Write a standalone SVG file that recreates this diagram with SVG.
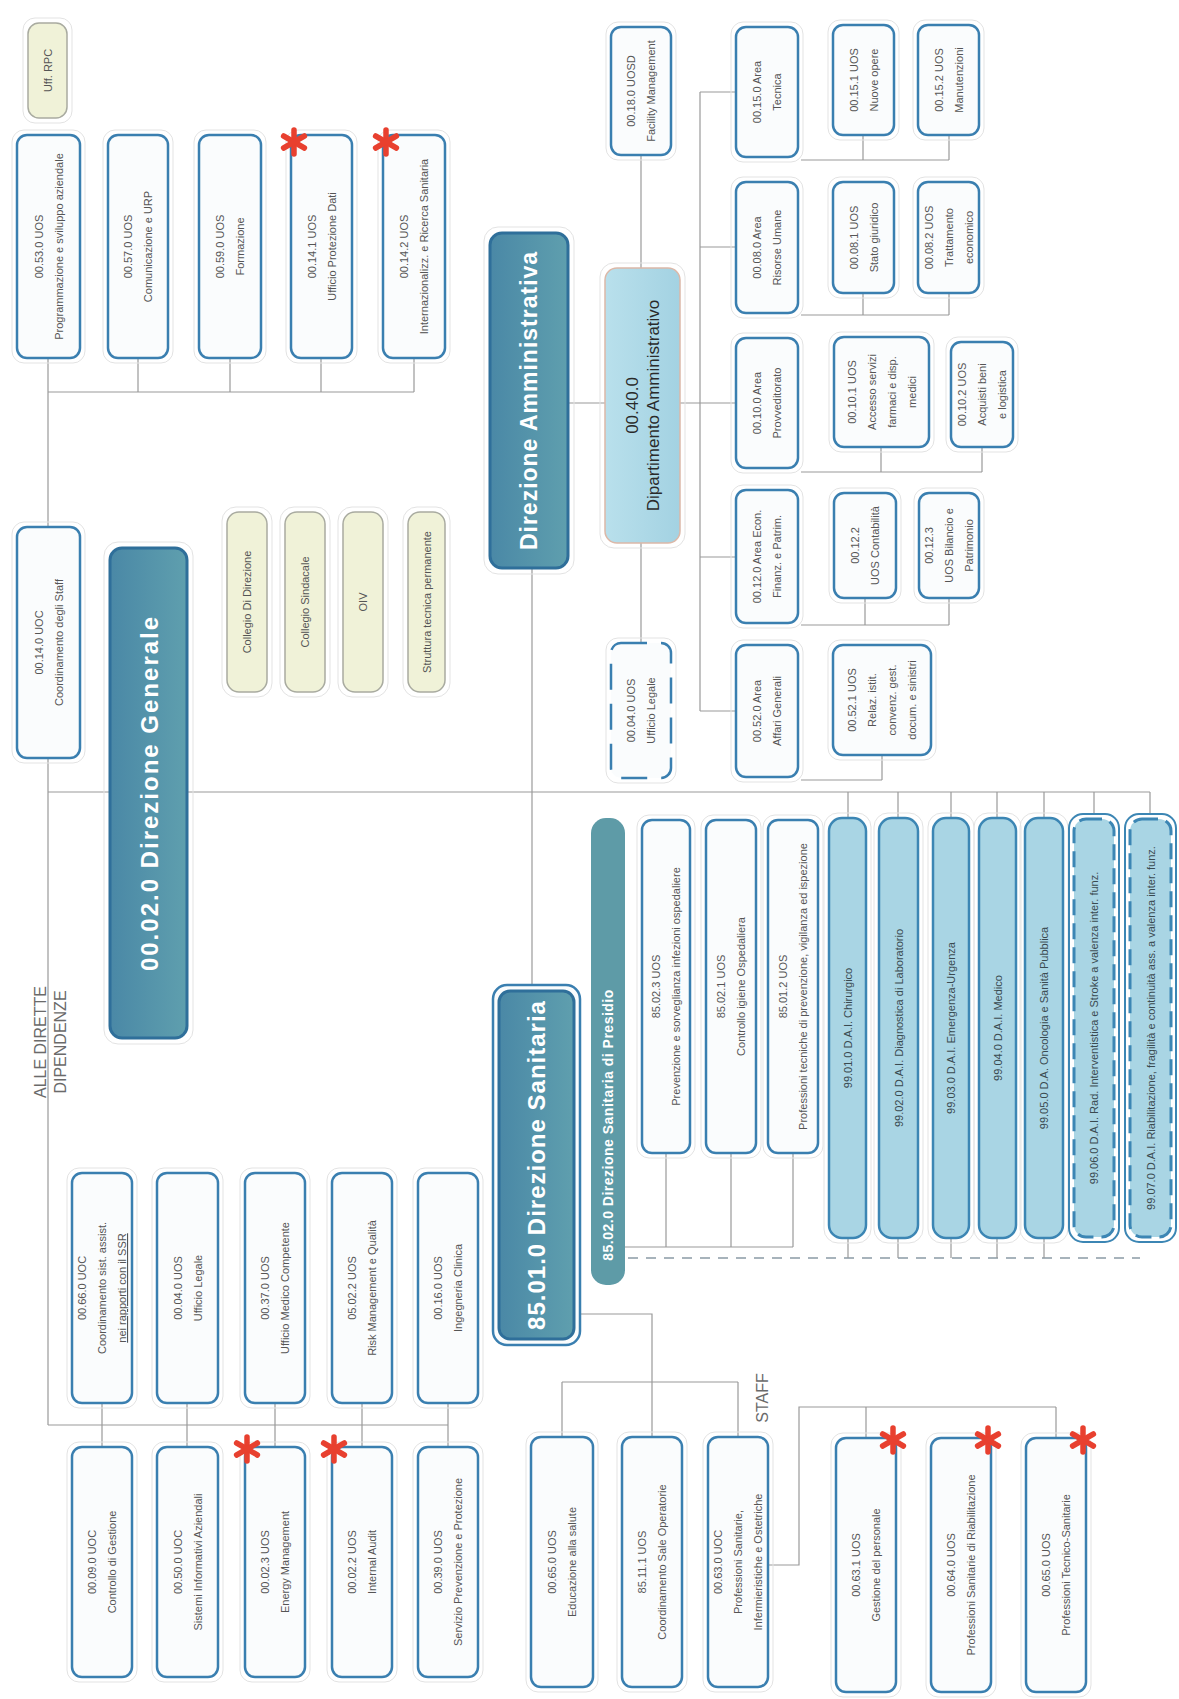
<svg xmlns="http://www.w3.org/2000/svg" xmlns:xlink="http://www.w3.org/1999/xlink" width="1179" height="1699" viewBox="0 0 1179 1699">
<style>
.bg{fill:#ffffff}
.box{fill:#fafcfd;stroke:#3a7fb0;stroke-width:2.5}
.dash{fill:#fafcfd;stroke:#3a7fb0;stroke-width:2.5;stroke-dasharray:26 14}
.halo{fill:none;stroke:#e3e3e3;stroke-width:1}
.t{font-family:"Liberation Sans",Arial,sans-serif;font-size:11px;fill:#555;text-anchor:middle}
.dt{font-family:"Liberation Sans",Arial,sans-serif;font-size:11px;fill:#3a4a50;text-anchor:middle}
.dai{fill:#a9d5e4;stroke:#3c86b4;stroke-width:2.5}
.daid{fill:#a9d5e4;stroke:#3c86b4;stroke-width:3;stroke-dasharray:16 8}
.daio{fill:#ffffff;stroke:#3c86b4;stroke-width:2}
.yel{fill:#f0f2d8;stroke:#a9aba0;stroke-width:1.5}
.hdr{fill:url(#hg);stroke:#2f6f9a;stroke-width:3}
.ht{font-family:"Liberation Sans",Arial,sans-serif;font-weight:bold;fill:#ffffff;text-anchor:middle}
.ln{stroke:#9a9a9a;stroke-width:1.2;fill:none}
.lnd{stroke:#8a9aa5;stroke-width:1.5;fill:none;stroke-dasharray:10 8}
.lbl{font-family:"Liberation Sans",Arial,sans-serif;font-size:16px;fill:#6a6a6a;text-anchor:middle}
</style>
<defs>
<linearGradient id="hg" x1="0" y1="0" x2="1" y2="0">
<stop offset="0" stop-color="#4a88a6"/>
<stop offset="1" stop-color="#5f9fae"/>
</linearGradient>
<linearGradient id="dg" x1="0" y1="0" x2="1" y2="0">
<stop offset="0" stop-color="#b9e0ec"/>
<stop offset="1" stop-color="#a3d2e2"/>
</linearGradient>
<g id="ast">
<line x1="0" y1="-12" x2="0" y2="12" stroke="#e8402f" stroke-width="5.5" stroke-linecap="round"/>
<line x1="-10.4" y1="-6" x2="10.4" y2="6" stroke="#e8402f" stroke-width="5.5" stroke-linecap="round"/>
<line x1="-10.4" y1="6" x2="10.4" y2="-6" stroke="#e8402f" stroke-width="5.5" stroke-linecap="round"/>
</g>
</defs>
<rect class="bg" x="0" y="0" width="1179" height="1699"/>

<g id="connectors">
<!-- top-left staff -->
<path class="ln" d="M48 392 H414 M48 358 V1425 M138 358 V392 M230 358 V392 M321 358 V392 M414 358 V392"/>
<!-- main horizontal -->
<path class="ln" d="M48 792 H1150"/>
<path class="ln" d="M532 568 V985"/>
<!-- DAI ticks -->
<path class="ln" d="M848 792 V818 M898 792 V818 M951 792 V818 M997 792 V818 M1044 792 V818 M1094 792 V816 M1150 792 V816"/>
<!-- administrative -->
<path class="ln" d="M568 403 H605 M680 403 H700 M700 92 V711 M700 92 H736 M700 247 H736 M700 403 H736 M700 557 H736 M700 711 H736"/>
<path class="ln" d="M641 155 V268"/>
<path class="ln" d="M641 543 V643" stroke="#c8c8c8"/>
<path class="ln" d="M801 160 H949 M863 135 V160 M949 135 V160"/>
<path class="ln" d="M801 315 H949 M863 293 V315 M949 293 V315"/>
<path class="ln" d="M801 472 H982 M881 447 V472 M982 447 V472"/>
<path class="ln" d="M801 625 H949 M865 598 V625 M949 598 V625"/>
<path class="ln" d="M801 780 H882 M882 755 V780"/>
<!-- sanitaria -->
<path class="ln" d="M625 1247 H793 M666 1153 V1247 M731 1153 V1247 M793 1153 V1247"/>
<path class="lnd" d="M628 1258 H1140"/>
<path class="ln" d="M848 1238 V1258 M898 1238 V1258 M951 1238 V1258 M997 1238 V1258 M1044 1238 V1258"/>
<!-- bottom-left -->
<path class="ln" d="M48 1425 H448 M102 1403 V1447 M187 1403 V1447 M275 1403 V1447 M362 1403 V1447 M448 1403 V1447"/>
<!-- staff -->
<path class="ln" d="M580 1314 H652 V1437 M562 1382 H738 M562 1382 V1437 M738 1382 V1437"/>
<path class="ln" d="M768 1565 H799 V1407 H1056 M866 1407 V1438 M1056 1407 V1438"/>
</g>

<!-- labels -->
<g id="lbl-alle">
<text class="lbl" transform="translate(46,1042) rotate(-90)">ALLE DIRETTE</text>
<text class="lbl" transform="translate(66,1042) rotate(-90)">DIPENDENZE</text>
</g>
<g id="lbl-staff">
<text class="lbl" transform="translate(768,1398) rotate(-90)">STAFF</text>
</g>

<!-- top-left row -->
<g id="n-rpc"><rect class="halo" x="23" y="18" width="49" height="105" rx="12"/><rect class="yel" x="28" y="23" width="39" height="95" rx="11"/><text class="t" transform="translate(47.5,70.5) rotate(-90)" y="4">Uff. RPC</text></g>
<g id="n-0053"><rect class="halo" x="12" y="130" width="73" height="233" rx="12"/><rect class="box" x="17" y="135" width="63" height="223" rx="10"/><text class="t" transform="translate(48.5,246.5) rotate(-90)"><tspan x="0" y="-6">00.53.0 UOS</tspan><tspan x="0" y="14">Programmazione e sviluppo aziendale</tspan></text></g>
<g id="n-0057"><rect class="halo" x="103" y="130" width="70" height="233" rx="12"/><rect class="box" x="108" y="135" width="60" height="223" rx="10"/><text class="t" transform="translate(138,246.5) rotate(-90)"><tspan x="0" y="-6">00.57.0 UOS</tspan><tspan x="0" y="14">Comunicazione e URP</tspan></text></g>
<g id="n-0059"><rect class="halo" x="194" y="130" width="72" height="233" rx="12"/><rect class="box" x="199" y="135" width="62" height="223" rx="10"/><text class="t" transform="translate(230,246.5) rotate(-90)"><tspan x="0" y="-6">00.59.0 UOS</tspan><tspan x="0" y="14">Formazione</tspan></text></g>
<g id="n-00141"><rect class="halo" x="286" y="130" width="71" height="233" rx="12"/><rect class="box" x="291" y="135" width="61" height="223" rx="10"/><text class="t" transform="translate(321.5,246.5) rotate(-90)"><tspan x="0" y="-6">00.14.1 UOS</tspan><tspan x="0" y="14">Ufficio Protezione Dati</tspan></text><use xlink:href="#ast" x="294" y="142"/></g>
<g id="n-00142"><rect class="halo" x="378" y="130" width="72" height="233" rx="12"/><rect class="box" x="383" y="135" width="62" height="223" rx="10"/><text class="t" transform="translate(414,246.5) rotate(-90)"><tspan x="0" y="-6">00.14.2 UOS</tspan><tspan x="0" y="14">Internazionalizz. e Ricerca Sanitaria</tspan></text><use xlink:href="#ast" x="386" y="142"/></g>

<g id="n-00140"><rect class="halo" x="12" y="522" width="73" height="241" rx="12"/><rect class="box" x="17" y="527" width="63" height="231" rx="10"/><text class="t" transform="translate(48.5,642.5) rotate(-90)"><tspan x="0" y="-6">00.14.0 UOC</tspan><tspan x="0" y="14">Coordinamento degli Staff</tspan></text></g>

<g id="n-dg"><rect class="halo" x="104" y="542" width="89" height="502" rx="14"/><rect class="hdr" x="110" y="548" width="77" height="490" rx="12"/><text class="ht" font-size="24" letter-spacing="2" transform="translate(148.5,793) rotate(-90)" y="9">00.02.0 Direzione Generale</text></g>

<g id="n-cd"><rect class="halo" x="222" y="507" width="50" height="190" rx="14"/><rect class="yel" x="227" y="512" width="40" height="180" rx="12"/><text class="t" transform="translate(247,602) rotate(-90)" y="4">Collegio Di Direzione</text></g>
<g id="n-cs"><rect class="halo" x="280" y="507" width="50" height="190" rx="14"/><rect class="yel" x="285" y="512" width="40" height="180" rx="12"/><text class="t" transform="translate(305,602) rotate(-90)" y="4">Collegio Sindacale</text></g>
<g id="n-oiv"><rect class="halo" x="338" y="507" width="50" height="190" rx="14"/><rect class="yel" x="343" y="512" width="40" height="180" rx="12"/><text class="t" transform="translate(363,602) rotate(-90)" y="4">OIV</text></g>
<g id="n-stp"><rect class="halo" x="403" y="507" width="47" height="190" rx="14"/><rect class="yel" x="408" y="512" width="37" height="180" rx="12"/><text class="t" transform="translate(426.5,602) rotate(-90)" y="4">Struttura tecnica permanente</text></g>

<!-- Direzione Amministrativa -->
<g id="n-da"><rect class="halo" x="484" y="227" width="90" height="347" rx="14"/><rect class="hdr" x="490" y="233" width="78" height="335" rx="12"/><text class="ht" font-size="23" letter-spacing="1" transform="translate(529,400.5) rotate(-90)" y="8">Direzione Amministrativa</text></g>
<g id="n-dip"><rect class="halo" x="600" y="263" width="85" height="285" rx="14"/><rect x="605" y="268" width="75" height="275" rx="12" fill="url(#dg)" stroke="#dcb8a8" stroke-width="1.5"/><text font-family="Liberation Sans, Arial, sans-serif" font-size="17" fill="#2a2a2a" text-anchor="middle" transform="translate(642.5,405.5) rotate(-90)"><tspan x="0" y="-5">00.40.0</tspan><tspan x="0" y="16">Dipartimento Amministrativo</tspan></text></g>
<g id="n-fac"><rect class="halo" x="606" y="22" width="70" height="138" rx="12"/><rect class="box" x="611" y="27" width="60" height="128" rx="10"/><text class="t" transform="translate(641,91) rotate(-90)"><tspan x="0" y="-6">00.18.0 UOSD</tspan><tspan x="0" y="14">Facility Management</tspan></text></g>
<g id="n-leg-amm"><rect class="halo" x="606" y="638" width="70" height="145" rx="12"/><rect class="dash" x="611" y="643" width="60" height="135" rx="10"/><text class="t" transform="translate(641,710.5) rotate(-90)"><tspan x="0" y="-6">00.04.0 UOS</tspan><tspan x="0" y="14">Ufficio Legale</tspan></text></g>

<g id="n-a150"><rect class="halo" x="731" y="22" width="72" height="140" rx="12"/><rect class="box" x="736" y="27" width="62" height="130" rx="10"/><text class="t" transform="translate(767,92) rotate(-90)"><tspan x="0" y="-6">00.15.0 Area</tspan><tspan x="0" y="14">Tecnica</tspan></text></g>
<g id="n-a080"><rect class="halo" x="731" y="177" width="72" height="141" rx="12"/><rect class="box" x="736" y="182" width="62" height="131" rx="10"/><text class="t" transform="translate(767,247.5) rotate(-90)"><tspan x="0" y="-6">00.08.0 Area</tspan><tspan x="0" y="14">Risorse Umane</tspan></text></g>
<g id="n-a100"><rect class="halo" x="731" y="333" width="72" height="140" rx="12"/><rect class="box" x="736" y="338" width="62" height="130" rx="10"/><text class="t" transform="translate(767,403) rotate(-90)"><tspan x="0" y="-6">00.10.0 Area</tspan><tspan x="0" y="14">Provveditorato</tspan></text></g>
<g id="n-a120"><rect class="halo" x="731" y="485" width="72" height="143" rx="12"/><rect class="box" x="736" y="490" width="62" height="133" rx="10"/><text class="t" transform="translate(767,556.5) rotate(-90)"><tspan x="0" y="-6">00.12.0 Area Econ.</tspan><tspan x="0" y="14">Finanz. e Patrim.</tspan></text></g>
<g id="n-a520"><rect class="halo" x="731" y="640" width="72" height="142" rx="12"/><rect class="box" x="736" y="645" width="62" height="132" rx="10"/><text class="t" transform="translate(767,711) rotate(-90)"><tspan x="0" y="-6">00.52.0 Area</tspan><tspan x="0" y="14">Affari Generali</tspan></text></g>

<g id="n-151"><rect class="halo" x="828" y="20" width="71" height="120" rx="12"/><rect class="box" x="833" y="25" width="61" height="110" rx="10"/><text class="t" transform="translate(863.5,80) rotate(-90)"><tspan x="0" y="-6">00.15.1 UOS</tspan><tspan x="0" y="14">Nuove opere</tspan></text></g>
<g id="n-152"><rect class="halo" x="913" y="20" width="71" height="120" rx="12"/><rect class="box" x="918" y="25" width="61" height="110" rx="10"/><text class="t" transform="translate(948.5,80) rotate(-90)"><tspan x="0" y="-6">00.15.2 UOS</tspan><tspan x="0" y="14">Manutenzioni</tspan></text></g>
<g id="n-081"><rect class="halo" x="828" y="177" width="71" height="121" rx="12"/><rect class="box" x="833" y="182" width="61" height="111" rx="10"/><text class="t" transform="translate(863.5,237.5) rotate(-90)"><tspan x="0" y="-6">00.08.1 UOS</tspan><tspan x="0" y="14">Stato giuridico</tspan></text></g>
<g id="n-082"><rect class="halo" x="913" y="177" width="71" height="121" rx="12"/><rect class="box" x="918" y="182" width="61" height="111" rx="10"/><text class="t" transform="translate(948.5,237.5) rotate(-90)"><tspan x="0" y="-16">00.08.2 UOS</tspan><tspan x="0" y="4">Trattamento</tspan><tspan x="0" y="24">economico</tspan></text></g>
<g id="n-101"><rect class="halo" x="829" y="332" width="105" height="120" rx="12"/><rect class="box" x="834" y="337" width="95" height="110" rx="10"/><text class="t" transform="translate(881.5,392) rotate(-90)"><tspan x="0" y="-26">00.10.1 UOS</tspan><tspan x="0" y="-6">Accesso servizi</tspan><tspan x="0" y="14">farmaci e disp.</tspan><tspan x="0" y="34">medici</tspan></text></g>
<g id="n-102"><rect class="halo" x="946" y="337" width="72" height="115" rx="12"/><rect class="box" x="951" y="342" width="62" height="105" rx="10"/><text class="t" transform="translate(982,394.5) rotate(-90)"><tspan x="0" y="-16">00.10.2 UOS</tspan><tspan x="0" y="4">Acquisti beni</tspan><tspan x="0" y="24">e logistica</tspan></text></g>
<g id="n-122"><rect class="halo" x="829" y="488" width="72" height="115" rx="12"/><rect class="box" x="834" y="493" width="62" height="105" rx="10"/><text class="t" transform="translate(865,545.5) rotate(-90)"><tspan x="0" y="-6">00.12.2</tspan><tspan x="0" y="14">UOS Contabilità</tspan></text></g>
<g id="n-123"><rect class="halo" x="914" y="488" width="70" height="115" rx="12"/><rect class="box" x="919" y="493" width="60" height="105" rx="10"/><text class="t" transform="translate(949,545.5) rotate(-90)"><tspan x="0" y="-16">00.12.3</tspan><tspan x="0" y="4">UOS Bilancio e</tspan><tspan x="0" y="24">Patrimonio</tspan></text></g>
<g id="n-521"><rect class="halo" x="828" y="640" width="108" height="120" rx="12"/><rect class="box" x="833" y="645" width="98" height="110" rx="10"/><text class="t" transform="translate(882,700) rotate(-90)"><tspan x="0" y="-26">00.52.1 UOS</tspan><tspan x="0" y="-6">Relaz. istit.</tspan><tspan x="0" y="14">convenz. gest.</tspan><tspan x="0" y="34">docum. e sinistri</tspan></text></g>

<!-- Direzione Sanitaria -->
<g id="n-ds"><rect class="box" x="493" y="985" width="87" height="360" rx="14" stroke-width="2"/><rect class="hdr" x="499" y="991" width="75" height="348" rx="11" stroke-width="2"/><text class="ht" font-size="24" letter-spacing="1" transform="translate(536.5,1165) rotate(-90)" y="8">85.01.0 Direzione Sanitaria</text></g>
<g id="n-dsp"><rect x="591" y="818" width="34" height="467" rx="15" fill="#5e9ba7"/><text class="ht" font-size="14" letter-spacing="0.5" transform="translate(608,1125) rotate(-90)" y="5">85.02.0 Direzione Sanitaria di Presidio</text></g>
<g id="n-8523"><rect class="halo" x="637" y="815" width="58" height="343" rx="12"/><rect class="box" x="642" y="820" width="48" height="333" rx="10"/><text class="t" transform="translate(666,986.5) rotate(-90)"><tspan x="0" y="-6">85.02.3 UOS</tspan><tspan x="0" y="14">Prevenzione e sorveglianza infezioni ospedaliere</tspan></text></g>
<g id="n-8521"><rect class="halo" x="701" y="815" width="60" height="343" rx="12"/><rect class="box" x="706" y="820" width="50" height="333" rx="10"/><text class="t" transform="translate(731,986.5) rotate(-90)"><tspan x="0" y="-6">85.02.1 UOS</tspan><tspan x="0" y="14">Controllo igiene Ospedaliera</tspan></text></g>
<g id="n-8512"><rect class="halo" x="763" y="815" width="60" height="343" rx="12"/><rect class="box" x="768" y="820" width="50" height="333" rx="10"/><text class="t" transform="translate(793,986.5) rotate(-90)"><tspan x="0" y="-6">85.01.2 UOS</tspan><tspan x="0" y="14">Professioni tecniche di prevenzione, vigilanza ed ispezione</tspan></text></g>

<g id="n-dai1"><rect class="halo" x="824" y="813" width="47" height="430" rx="14"/><rect class="dai" x="829" y="818" width="37" height="420" rx="13"/><text class="dt" transform="translate(847.5,1028) rotate(-90)" y="4">99.01.0 D.A.I. Chirurgico</text></g>
<g id="n-dai2"><rect class="halo" x="874" y="813" width="49" height="430" rx="14"/><rect class="dai" x="879" y="818" width="39" height="420" rx="13"/><text class="dt" transform="translate(898.5,1028) rotate(-90)" y="4">99.02.0 D.A.I. Diagnostica di Laboratorio</text></g>
<g id="n-dai3"><rect class="halo" x="928" y="813" width="46" height="430" rx="14"/><rect class="dai" x="933" y="818" width="36" height="420" rx="13"/><text class="dt" transform="translate(951,1028) rotate(-90)" y="4">99.03.0 D.A.I. Emergenza-Urgenza</text></g>
<g id="n-dai4"><rect class="halo" x="974" y="813" width="47" height="430" rx="14"/><rect class="dai" x="979" y="818" width="37" height="420" rx="13"/><text class="dt" transform="translate(997.5,1028) rotate(-90)" y="4">99.04.0 D.A.I. Medico</text></g>
<g id="n-dai5"><rect class="halo" x="1020" y="813" width="48" height="430" rx="14"/><rect class="dai" x="1025" y="818" width="38" height="420" rx="13"/><text class="dt" transform="translate(1044,1028) rotate(-90)" y="4">99.05.0 D.A. Oncologia e Sanità Pubblica</text></g>
<g id="n-dai6"><rect class="daio" x="1069" y="814" width="50" height="428" rx="14"/><rect class="daid" x="1074" y="819" width="40" height="418" rx="12"/><text class="dt" font-size="10.5" transform="translate(1094,1028) rotate(-90)" y="4">99.06.0 D.A.I. Rad. Interventistica e Stroke a valenza inter. funz.</text></g>
<g id="n-dai7"><rect class="daio" x="1125" y="814" width="51" height="428" rx="14"/><rect class="daid" x="1130" y="819" width="41" height="418" rx="12"/><text class="dt" font-size="10" transform="translate(1150.5,1028) rotate(-90)" y="4">99.07.0 D.A.I. Riabilitazione, fragilità e continuità ass. a valenza inter. funz.</text></g>

<!-- bottom-left -->
<g id="n-660"><rect class="halo" x="67" y="1168" width="70" height="240" rx="12"/><rect class="box" x="72" y="1173" width="60" height="230" rx="10"/><text class="t" transform="translate(102,1288) rotate(-90)"><tspan x="0" y="-16">00.66.0 UOC</tspan><tspan x="0" y="4">Coordinamento sist. assist.</tspan><tspan x="0" y="24" text-decoration="underline">nei rapporti con il SSR</tspan></text></g>
<g id="n-040"><rect class="halo" x="152" y="1168" width="71" height="240" rx="12"/><rect class="box" x="157" y="1173" width="61" height="230" rx="10"/><text class="t" transform="translate(187.5,1288) rotate(-90)"><tspan x="0" y="-6">00.04.0 UOS</tspan><tspan x="0" y="14">Ufficio Legale</tspan></text></g>
<g id="n-370"><rect class="halo" x="240" y="1168" width="70" height="240" rx="12"/><rect class="box" x="245" y="1173" width="60" height="230" rx="10"/><text class="t" transform="translate(275,1288) rotate(-90)"><tspan x="0" y="-6">00.37.0 UOS</tspan><tspan x="0" y="14">Ufficio Medico Competente</tspan></text></g>
<g id="n-0522"><rect class="halo" x="327" y="1168" width="70" height="240" rx="12"/><rect class="box" x="332" y="1173" width="60" height="230" rx="10"/><text class="t" transform="translate(362,1288) rotate(-90)"><tspan x="0" y="-6">05.02.2 UOS</tspan><tspan x="0" y="14">Risk Management e Qualità</tspan></text></g>
<g id="n-160"><rect class="halo" x="413" y="1168" width="70" height="240" rx="12"/><rect class="box" x="418" y="1173" width="60" height="230" rx="10"/><text class="t" transform="translate(448,1288) rotate(-90)"><tspan x="0" y="-6">00.16.0 UOS</tspan><tspan x="0" y="14">Ingegneria Clinica</tspan></text></g>

<g id="n-090"><rect class="halo" x="67" y="1442" width="70" height="240" rx="12"/><rect class="box" x="72" y="1447" width="60" height="230" rx="10"/><text class="t" transform="translate(102,1562) rotate(-90)"><tspan x="0" y="-6">00.09.0 UOC</tspan><tspan x="0" y="14">Controllo di Gestione</tspan></text></g>
<g id="n-500"><rect class="halo" x="152" y="1442" width="71" height="240" rx="12"/><rect class="box" x="157" y="1447" width="61" height="230" rx="10"/><text class="t" transform="translate(187.5,1562) rotate(-90)"><tspan x="0" y="-6">00.50.0 UOC</tspan><tspan x="0" y="14">Sistemi Informativi Aziendali</tspan></text></g>
<g id="n-023"><rect class="halo" x="240" y="1442" width="70" height="240" rx="12"/><rect class="box" x="245" y="1447" width="60" height="230" rx="10"/><text class="t" transform="translate(275,1562) rotate(-90)"><tspan x="0" y="-6">00.02.3 UOS</tspan><tspan x="0" y="14">Energy Management</tspan></text><use xlink:href="#ast" x="247" y="1449"/></g>
<g id="n-022"><rect class="halo" x="327" y="1442" width="70" height="240" rx="12"/><rect class="box" x="332" y="1447" width="60" height="230" rx="10"/><text class="t" transform="translate(362,1562) rotate(-90)"><tspan x="0" y="-6">00.02.2 UOS</tspan><tspan x="0" y="14">Internal Audit</tspan></text><use xlink:href="#ast" x="334" y="1449"/></g>
<g id="n-390"><rect class="halo" x="413" y="1442" width="70" height="240" rx="12"/><rect class="box" x="418" y="1447" width="60" height="230" rx="10"/><text class="t" transform="translate(448,1562) rotate(-90)"><tspan x="0" y="-6">00.39.0 UOS</tspan><tspan x="0" y="14">Servizio Prevenzione e Protezione</tspan></text></g>

<!-- staff -->
<g id="n-650e"><rect class="halo" x="526" y="1432" width="72" height="260" rx="12"/><rect class="box" x="531" y="1437" width="62" height="250" rx="10"/><text class="t" transform="translate(562,1562) rotate(-90)"><tspan x="0" y="-6">00.65.0 UOS</tspan><tspan x="0" y="14">Educazione alla salute</tspan></text></g>
<g id="n-8511"><rect class="halo" x="617" y="1432" width="70" height="260" rx="12"/><rect class="box" x="622" y="1437" width="60" height="250" rx="10"/><text class="t" transform="translate(652,1562) rotate(-90)"><tspan x="0" y="-6">85.11.1 UOS</tspan><tspan x="0" y="14">Coordinamento Sale Operatorie</tspan></text></g>
<g id="n-630"><rect class="halo" x="703" y="1432" width="70" height="260" rx="12"/><rect class="box" x="708" y="1437" width="60" height="250" rx="10"/><text class="t" transform="translate(738,1562) rotate(-90)"><tspan x="0" y="-16">00.63.0 UOC</tspan><tspan x="0" y="4">Professioni Sanitarie,</tspan><tspan x="0" y="24">Infermieristiche e Ostetriche</tspan></text></g>

<g id="n-631"><rect class="halo" x="831" y="1433" width="70" height="264" rx="12"/><rect class="box" x="836" y="1438" width="60" height="254" rx="10"/><text class="t" transform="translate(866,1565) rotate(-90)"><tspan x="0" y="-6">00.63.1 UOS</tspan><tspan x="0" y="14">Gestione del personale</tspan></text><use xlink:href="#ast" x="893" y="1440"/></g>
<g id="n-640"><rect class="halo" x="926" y="1433" width="70" height="264" rx="12"/><rect class="box" x="931" y="1438" width="60" height="254" rx="10"/><text class="t" transform="translate(961,1565) rotate(-90)"><tspan x="0" y="-6">00.64.0 UOS</tspan><tspan x="0" y="14">Professioni Sanitarie di Riabilitazione</tspan></text><use xlink:href="#ast" x="988" y="1440"/></g>
<g id="n-650"><rect class="halo" x="1021" y="1433" width="70" height="264" rx="12"/><rect class="box" x="1026" y="1438" width="60" height="254" rx="10"/><text class="t" transform="translate(1056,1565) rotate(-90)"><tspan x="0" y="-6">00.65.0 UOS</tspan><tspan x="0" y="14">Professioni Tecnico-Sanitarie</tspan></text><use xlink:href="#ast" x="1083" y="1440"/></g>
</svg>
